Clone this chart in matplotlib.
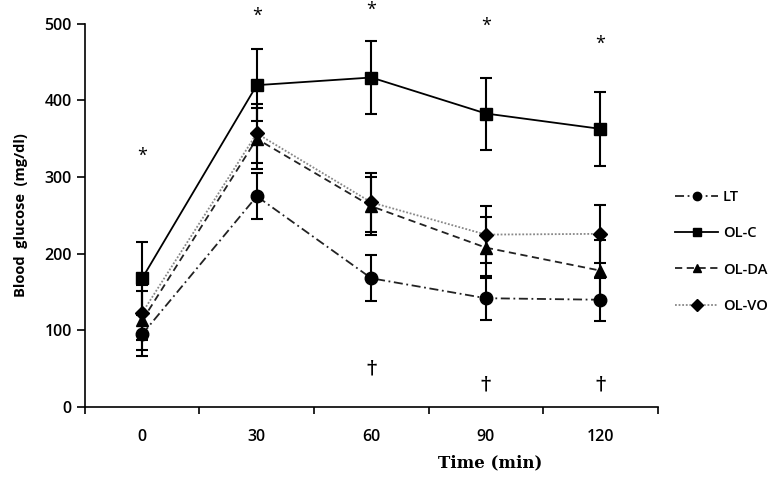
import numpy as np
import matplotlib
matplotlib.use("Agg")
import matplotlib.pyplot as plt

# DATA
times = ["0", "30", "60", "90", "120"]
groups = ["LT", "OL-C", "OL-DA", "OL-VO"]

lt = [95, 275, 168, 142, 140]
lt_err = [28, 30, 30, 29, 28]
olc = [168, 420, 430, 383, 363]
olc_err = [48, 47, 47, 47, 48]
olda = [113, 350, 262, 208, 178]
olda_err = [38, 40, 38, 40, 40]
olvo = [123, 357, 267, 225, 226]
olvo_err = [36, 38, 38, 37, 38]

star_y = [328, 510, 518, 497, 474]          # "*" marks, per time point
dagger_pos = [2, 3, 4]                       # time indexes with a dagger
dagger_y = [50, 30, 30]

#-------------------------------------------------------------------------------

plt.rcParams['font.family'] = ['Open Sans', 'DejaVu Sans']

fig = plt.figure(figsize=(7.72, 4.97), dpi=100)
ax = fig.add_axes([0.110, 0.181, 0.742, 0.771])

x = np.arange(len(times))
styles = [
    (lt, lt_err, "o", (0, (5, 2, 1, 2)), "#222222", 9),
    (olc, olc_err, "s", "-", "black", 9),
    (olda, olda_err, "^", (0, (4, 2.5)), "#222222", 9),
    (olvo, olvo_err, "D", (0, (1, 1)), "#888888", 7),
]
for (vals, err, mk, ls, col, ms), name in zip(styles, groups):
    ax.errorbar(x, vals, yerr=err, fmt="none", ecolor="black",
                elinewidth=1.5, capsize=4, capthick=1.5, zorder=2)
    ax.plot(x, vals, linestyle=ls, color=col, linewidth=1.3, zorder=3,
            marker=mk, markersize=ms, markerfacecolor="black",
            markeredgecolor="black", label=name)

for i, yv in enumerate(star_y):
    ax.text(i, yv, "*", ha="center", va="center", fontsize=13,
            clip_on=False)
for i, yv in zip(dagger_pos, dagger_y):
    ax.text(i, yv, "\u2020", ha="center", va="center", fontsize=14,
            fontweight="bold", family="DejaVu Serif")

ax.set_xlim(-0.5, len(times) - 0.5)
ax.set_ylim(0, 500)
ax.set_yticks(np.arange(0, 501, 100))
ax.set_xticks(np.arange(-0.5, len(times), 1.0))
ax.set_xticklabels([])
ax.set_xticks(x, minor=True)
ax.set_xticklabels(times, minor=True)
ax.tick_params(axis="x", which="minor", length=0, pad=16, labelsize=11.5)
ax.tick_params(axis="x", which="major", direction="out", length=5, width=1.2)
ax.tick_params(axis="y", direction="out", length=6, width=1.2, labelsize=11.5)
for lab in ax.get_yticklabels():
    lab.set_fontweight("semibold")
for lab in ax.get_xticklabels(minor=True):
    lab.set_fontweight("semibold")
ax.spines["top"].set_visible(False)
ax.spines["right"].set_visible(False)
ax.spines["left"].set_linewidth(1.2)
ax.spines["bottom"].set_linewidth(1.2)

ax.set_ylabel("Blood  glucose  (mg/dl)", fontsize=10.5, fontweight="bold",
              labelpad=12)
fig.text(490 / 772, 1 - 463 / 497, "Time (min)", ha="center", va="center",
         fontsize=12, fontweight="bold", family="DejaVu Serif")

leg = ax.legend(loc="upper left", bbox_to_anchor=(1.008, 0.60), frameon=False,
                fontsize=10.5, handlelength=2.9, labelspacing=1.52,
                handletextpad=0.35)
for t in leg.get_texts():
    t.set_fontweight("semibold")
for h in leg.legend_handles:
    h.set_markersize(6)

plt.savefig("out.png", dpi=100)
